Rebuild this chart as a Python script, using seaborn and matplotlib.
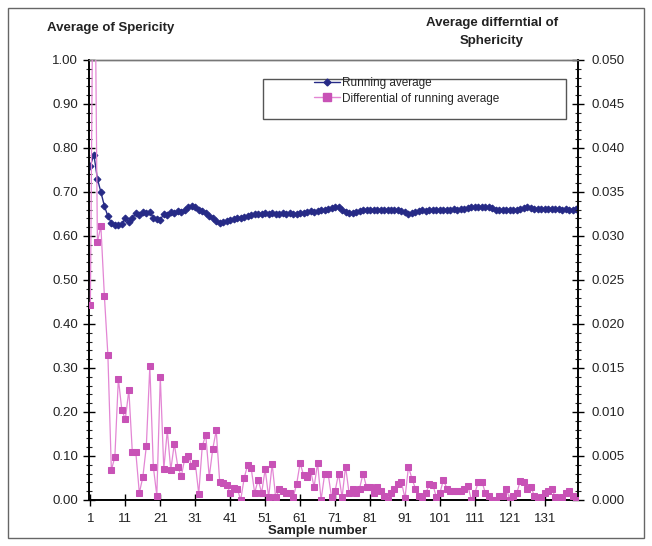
import numpy as np
import pandas as pd
import seaborn as sns
import matplotlib
matplotlib.use("Agg")
import matplotlib.pyplot as plt
from matplotlib.patches import Rectangle
from matplotlib.ticker import MultipleLocator, FormatStrFormatter
from matplotlib.lines import Line2D

# Running average of sphericity (left axis)
running_avg = [
    0.760, 0.785, 0.730, 0.700, 0.668, 0.645, 0.630, 0.625, 0.624, 0.628,
    0.640, 0.632, 0.640, 0.652, 0.648, 0.654, 0.652, 0.655, 0.642, 0.638,
    0.637, 0.650, 0.648, 0.655, 0.652, 0.657, 0.655, 0.660, 0.665, 0.668,
    0.665, 0.660, 0.657, 0.652, 0.646, 0.640, 0.634, 0.630, 0.632, 0.635,
    0.637, 0.638, 0.640, 0.642, 0.644, 0.646, 0.648, 0.649, 0.650, 0.651,
    0.652, 0.651, 0.652, 0.651, 0.650, 0.652, 0.651, 0.652, 0.650, 0.651,
    0.652, 0.653, 0.655, 0.656, 0.655, 0.657, 0.658, 0.660, 0.662, 0.663,
    0.667, 0.665, 0.660, 0.655, 0.653, 0.652, 0.655, 0.657, 0.658, 0.659,
    0.658, 0.659, 0.660, 0.659, 0.658, 0.659, 0.660, 0.659, 0.658, 0.657,
    0.654, 0.651, 0.653, 0.655, 0.657, 0.658, 0.657, 0.658, 0.659, 0.658,
    0.659, 0.660, 0.659, 0.660, 0.661, 0.660, 0.661, 0.662, 0.664, 0.665,
    0.666, 0.667, 0.666, 0.666, 0.665, 0.663, 0.660, 0.659, 0.658, 0.659,
    0.658, 0.659, 0.660, 0.661, 0.663, 0.665, 0.664, 0.662, 0.661, 0.662,
    0.661, 0.662, 0.661, 0.662, 0.661, 0.660, 0.661, 0.660, 0.660, 0.661,
]

# Differential of running average (right axis)
differential = [
    0.0222, 0.0750, 0.0293, 0.0311, 0.0232, 0.0165, 0.0034, 0.0049, 0.0138, 0.0102,
    0.0092, 0.0125, 0.0054, 0.0054, 0.0008, 0.0026, 0.0061, 0.0152, 0.0038, 0.0005,
    0.0140, 0.0035, 0.0079, 0.0034, 0.0064, 0.0038, 0.0027, 0.0047, 0.0050, 0.0039,
    0.0042, 0.0007, 0.0061, 0.0074, 0.0026, 0.0058, 0.0079, 0.0020, 0.0019, 0.0017,
    0.0008, 0.0014, 0.0013, 0.0000, 0.0025, 0.0040, 0.0036, 0.0008, 0.0023, 0.0008,
    0.0035, 0.0003, 0.0041, 0.0003, 0.0012, 0.0010, 0.0008, 0.0008, 0.0003, 0.0018,
    0.0042, 0.0028, 0.0026, 0.0033, 0.0015, 0.0042, 0.0000, 0.0029, 0.0030, 0.0003,
    0.0010, 0.0030, 0.0003, 0.0038, 0.0008, 0.0013, 0.0008, 0.0013, 0.0030, 0.0015,
    0.0015, 0.0008, 0.0015, 0.0010, 0.0005, 0.0000, 0.0008, 0.0012, 0.0018, 0.0020,
    0.0002, 0.0038, 0.0024, 0.0013, 0.0005, 0.0003, 0.0008, 0.0018, 0.0017, 0.0003,
    0.0008, 0.0023, 0.0013, 0.0010, 0.0010, 0.0010, 0.0010, 0.0013, 0.0016, 0.0000,
    0.0008, 0.0021, 0.0021, 0.0008, 0.0005, 0.0000, 0.0000, 0.0005, 0.0005, 0.0013,
    0.0000, 0.0005, 0.0008, 0.0022, 0.0021, 0.0013, 0.0015, 0.0005, 0.0000, 0.0003,
    0.0008, 0.0010, 0.0013, 0.0003, 0.0000, 0.0003, 0.0008, 0.0010, 0.0005, 0.0000,
]

samples = list(range(1, len(running_avg) + 1))
x_ticks = list(range(1, 141, 10))

BLUE = "#262a86"
PINK_LINE = "#e386d4"
PINK_MARK = "#c852b6"

sns.set_style("ticks")
plt.rcParams['font.family'] = ['Liberation Sans', 'DejaVu Sans']

df = pd.DataFrame({'sample': samples, 'avg': running_avg, 'diff': differential})

fig = plt.figure(figsize=(6.52, 5.46), dpi=100)
W, H = 652, 546
ax = fig.add_axes([89 / W, 1 - 500 / H, 489 / W, 440 / H])
ax2 = ax.twinx()

sns.lineplot(data=df, x='sample', y='diff', ax=ax2, color=PINK_LINE, lw=0.9,
             marker='s', markersize=5, markerfacecolor=PINK_MARK,
             markeredgecolor=PINK_MARK, zorder=3)
sns.lineplot(data=df, x='sample', y='avg', ax=ax, color=BLUE, lw=1.0,
             marker='D', markersize=3.5, markerfacecolor=BLUE,
             markeredgecolor=BLUE, zorder=3)

ax.set_xlim(0.6, 140.5)
ax.set_ylim(0, 1.0)
ax2.set_ylim(0, 0.05)

ax.yaxis.set_major_locator(MultipleLocator(0.1))
ax.yaxis.set_minor_locator(MultipleLocator(0.02))
ax.yaxis.set_major_formatter(FormatStrFormatter('%.2f'))
ax2.yaxis.set_major_locator(MultipleLocator(0.005))
ax2.yaxis.set_minor_locator(MultipleLocator(0.001))
ax2.yaxis.set_major_formatter(FormatStrFormatter('%.3f'))
ax.set_xticks(x_ticks)
ax.set_xticklabels([str(t) for t in x_ticks])

for a in (ax, ax2):
    a.tick_params(which='major', direction='inout', length=8, width=1,
                  labelsize=9.5, colors='black', labelcolor='#222222')
    a.tick_params(which='minor', direction='inout', length=4, width=0.8)
    a.set_xlabel('')
    a.set_ylabel('')
    for s in a.spines.values():
        s.set_visible(True)
        s.set_color('black')
        s.set_linewidth(1.2)
    a.spines['top'].set_color('#777777')
    a.spines['top'].set_linewidth(1.0)
ax.tick_params(axis='y', pad=4)
ax2.tick_params(axis='y', pad=6)
ax.tick_params(axis='x', pad=5)

# legend with Excel-like box
ax.add_patch(Rectangle((0.356, 0.866), 0.619, 0.091, transform=ax.transAxes,
                       fill=True, facecolor='white', edgecolor='#555555',
                       lw=1.0, zorder=5))
handles = [
    Line2D([], [], color=BLUE, lw=1.0, marker='D', markersize=3.5,
           markerfacecolor=BLUE, markeredgecolor=BLUE),
    Line2D([], [], color=PINK_LINE, lw=1.0, marker='s', markersize=5.5,
           markerfacecolor=PINK_MARK, markeredgecolor=PINK_MARK),
]
leg = ax.legend(handles, ['Running average', 'Differential of running average'],
                loc='upper left', bbox_to_anchor=(0.45, 0.972), frameon=False,
                fontsize=8.5, handlelength=2.2, handletextpad=0.2,
                labelspacing=0.3, borderaxespad=0)
leg.set_zorder(6)

fig.text(47 / W, 1 - 28 / H, 'Average of Spericity', fontsize=9.5,
         fontweight='bold', ha='left', va='center', color='#222222')
fig.text(492 / W, 1 - 32 / H, 'Average differntial of\nSphericity', fontsize=9.5,
         fontweight='bold', ha='center', va='center', color='#222222',
         linespacing=1.6)
fig.text(318 / W, 1 - 531 / H, 'Sample number', fontsize=9.5,
         fontweight='bold', ha='center', va='center', color='#222222')

fig.patches.append(Rectangle((8 / W, 1 - 538 / H), 636 / W, 530 / H,
                             transform=fig.transFigure, fill=False,
                             edgecolor='#666666', lw=1.0))

fig.savefig('out.png', dpi=100, facecolor='white')
